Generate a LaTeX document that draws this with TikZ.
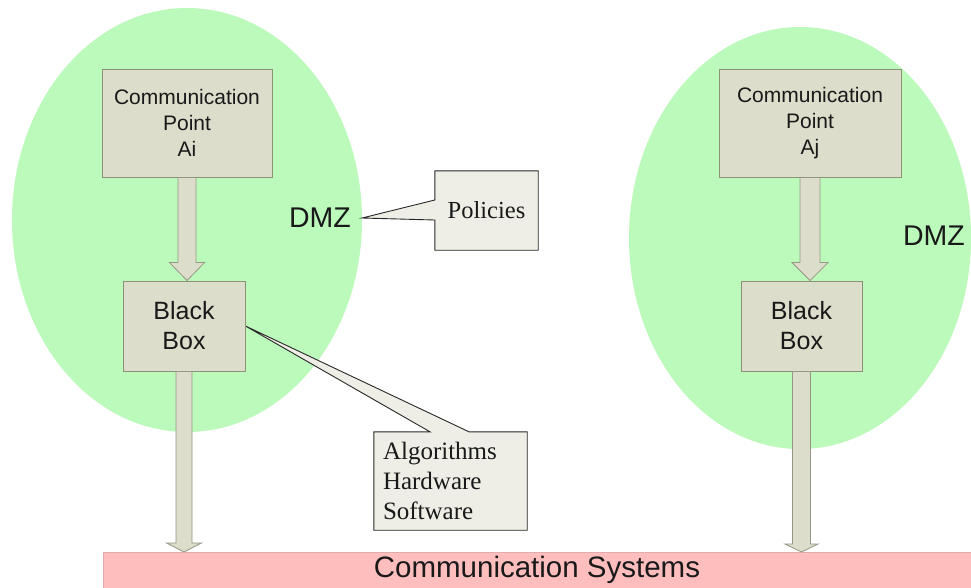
\documentclass[tikz,border=0pt]{standalone}
\usepackage{fontspec}
\setmainfont{Liberation Serif}
\setsansfont{Liberation Sans}
\usetikzlibrary{shapes.geometric,calc}
\definecolor{dmzgreen}{RGB}{188,250,188}
\definecolor{boxfill}{RGB}{221,221,204}
\definecolor{boxline}{RGB}{140,145,120}
\definecolor{arrline}{RGB}{150,150,132}
\definecolor{callfill}{RGB}{238,238,230}
\definecolor{callline}{RGB}{40,40,40}
\definecolor{barfill}{RGB}{255,190,190}
\definecolor{barline}{RGB}{225,172,172}
\definecolor{ink}{RGB}{25,25,25}
\pgfdeclarelayer{bg}
\pgfdeclarelayer{mid}
\pgfsetlayers{bg,mid,main}
\newcommand\blockarr[5]{%
  \path[blockarrow] let \p1=#1, \p2=#2 in
    (\x1-#3,\y1) -- (\x1-#3,\y2+#5) -- (\x1-#4,\y2+#5) -- (\x1,\y2)
    -- (\x1+#4,\y2+#5) -- (\x1+#3,\y2+#5) -- (\x1+#3,\y1) -- cycle;}
\begin{document}
\begin{tikzpicture}[x=1pt,y=-1pt,
  dmz/.style={ellipse, fill=dmzgreen, draw=none, inner sep=0pt},
  pointbox/.style={rectangle, fill=boxfill, draw=boxline, line width=0.9pt,
    minimum height=108pt, align=center, text=ink,
    font=\sffamily\fontsize{21}{26}\selectfont},
  bbox/.style={rectangle, fill=boxfill, draw=boxline, line width=0.9pt,
    minimum width=122pt, minimum height=90pt, align=center, text=ink,
    font=\sffamily\fontsize{25}{30}\selectfont},
  blockarrow/.style={fill=boxfill, draw=arrline, line width=0.8pt, line join=miter},
  callout/.style={fill=callfill, draw=callline, line width=0.9pt, line join=miter},
  dmztext/.style={text=ink, font=\sffamily\fontsize{28.5}{32}\selectfont},
  serift/.style={text=ink, font=\rmfamily\fontsize{25}{30}\selectfont}
]
\useasboundingbox (0,0) rectangle (971,587);

\begin{pgfonlayer}{bg}
  \fill[white] (0,0) rectangle (971,587);
  \node[dmz, minimum width=350pt, minimum height=424pt] (dmzA) at (187,220) {};
  \node[dmz, minimum width=342pt, minimum height=422pt] (dmzB) at (800,238) {};
\end{pgfonlayer}

% communication system bar
\node[rectangle, fill=barfill, draw=barline, line width=0.8pt, inner sep=0pt,
      minimum width=890pt, minimum height=60pt, anchor=north west] (bar) at (103,552) {};
\node[text=ink, font=\sffamily\fontsize{29.5}{33}\selectfont] (barlabel) at (537,570) {Communication Systems};

% left side
\node[pointbox, minimum width=170pt] (ptA) at (187,123) {Communication\\Point\\Ai};
\node[bbox] (bbA) at (184,326) {Black\\Box};
\node[dmztext, inner xsep=11pt] (dmzlabA) at (320,218) {DMZ};

% right side
\node[pointbox, minimum width=182pt] (ptB) at (810,123) {Communication\\Point\\Aj};
\node[bbox, minimum width=121pt] (bbB) at (801.5,326) {Black\\Box};
\node[dmztext] (dmzlabB) at (934,236) {DMZ};

% block arrows
\blockarr{(ptA.south)}{(bbA.north)}{9pt}{17.5pt}{18pt}
\blockarr{(ptB.south)}{(bbB.north)}{10pt}{18pt}{18pt}
\blockarr{(bbA.south)}{(bar.north)}{8pt}{17.5pt}{9pt}
\blockarr{(bbB.south)}{(bar.north)}{9pt}{16.5pt}{8pt}

% callouts
\node[text=ink, inner sep=0pt, minimum width=103pt, minimum height=79pt,
      font=\rmfamily\fontsize{24.5}{29}\selectfont] (pol) at (486.5,210.5) {Policies};
\node[serift, inner xsep=9pt, inner ysep=0pt, text width=135pt, align=left,
      minimum height=98pt] (algo) at (450.5,481) {Algorithms\\Hardware\\Software};

\begin{pgfonlayer}{mid}
  \path[callout] (pol.north west) -- (pol.north east) -- (pol.south east)
    -- (pol.south west) -- ($(pol.west)+(0,9.5)$) -- (dmzlabA.east)
    -- ($(pol.west)+(0,-10.5)$) -- cycle;
  \path[callout] (algo.north west) -- ($(algo.north)+(-20.5,0)$) -- (bbA.east)
    -- ($(algo.north)+(18.5,0)$) -- (algo.north east) -- (algo.south east)
    -- (algo.south west) -- cycle;
\end{pgfonlayer}
\end{tikzpicture}
\end{document}
